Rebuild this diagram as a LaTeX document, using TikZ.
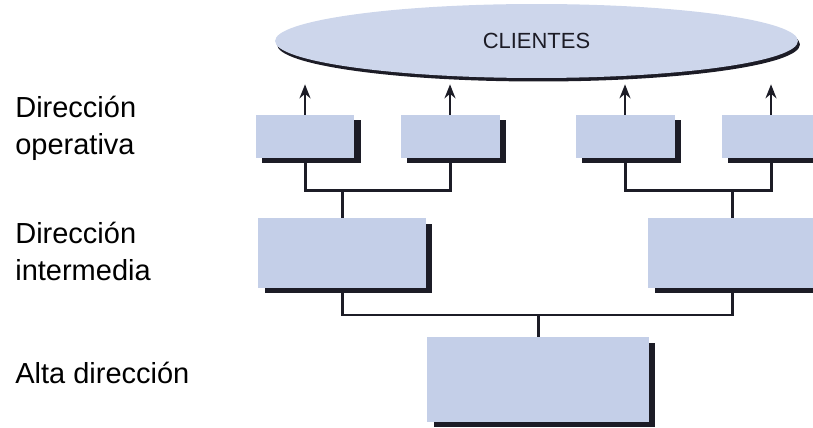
\documentclass[tikz,border=0pt]{standalone}
\usepackage{fontspec}
\setmainfont{Liberation Sans}
\usepackage{xcolor}
\usetikzlibrary{positioning,arrows.meta,shapes.geometric,shadows}
\definecolor{boxblue}{RGB}{196,207,232}
\definecolor{shade}{RGB}{28,28,38}

\begin{document}
\begin{tikzpicture}[x=0.02cm, y=-0.02cm, every node/.style={inner sep=0pt},
  box/.style={fill=boxblue, drop shadow={shadow xshift=0.13cm, shadow yshift=-0.11cm, fill=shade, opacity=1}},
  opbox/.style={box, minimum width=1.98cm, minimum height=0.86cm},
  midbox/.style={box, minimum width=3.36cm, minimum height=1.4cm},
  topbox/.style={box, minimum width=4.44cm, minimum height=1.7cm},
  level/.style={anchor=north west, align=left, font=\fontsize{16.5}{21}\selectfont},
  link/.style={line width=0.06cm, draw=shade},
  up/.style={-{Stealth[length=0.28cm, width=0.22cm]}, line width=0.04cm, draw=shade, shorten >=0.12cm}]
  \clip (0,0) rectangle (813,428);
  \node[ellipse, fill=boxblue!85!white, minimum width=10.46cm, minimum height=1.48cm,
    drop shadow={shadow xshift=0.04cm, shadow yshift=-0.07cm, fill=shade, opacity=1},
    font=\fontsize{12.5}{15}\selectfont, text=shade] (cli) at (536.5,41) {CLIENTES};

  % operative level
  \node[opbox] (o1) at (305,136.5) {}; \node[opbox] (o2) at (450,136.5) {};
  \node[opbox] (o3) at (625,136.5) {}; \node[opbox] (o4) at (771,136.5) {};
  % intermediate and top level
  \node[midbox] (m1) at (342,253) {}; \node[midbox] (m2) at (732,253) {};
  \node[topbox] (a1) at (538,379.5) {};

  \node[level] (lop) at (15,96) {Dirección\\operativa};
  \node[level] (lmid) at (15,222) {Dirección\\intermedia};
  \node[level] (ltop) at (15,362) {Alta dirección};

  \draw[up] (o1.north) -- (o1.north |- cli.south); \draw[up] (o2.north) -- (o2.north |- cli.south);
  \draw[up] (o3.north) -- (o3.north |- cli.south); \draw[up] (o4.north) -- (o4.north |- cli.south);

  \coordinate (j1) at (342,191); \coordinate (j2) at (732,191); \coordinate (j3) at (538,315);
  \draw[link] (o1.south) |- (j1) -| (o2.south); \draw[link] (j1) -- (m1.north);
  \draw[link] (o3.south) |- (j2) -| (o4.south); \draw[link] (j2) -- (m2.north);
  \draw[link] (m1.south) |- (j3) -| (m2.south); \draw[link] (j3) -- (a1.north);
\end{tikzpicture}
\end{document}
